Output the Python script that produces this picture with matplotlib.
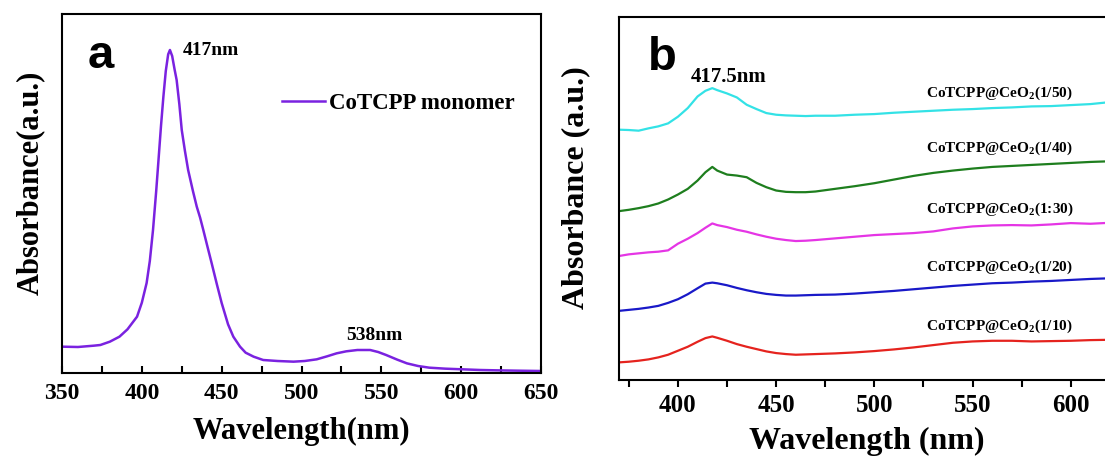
import matplotlib
matplotlib.use("Agg")
from matplotlib import pyplot as plt
from matplotlib.ticker import MultipleLocator, FixedLocator

plt.rcParams['font.family'] = 'Liberation Serif'
plt.rcParams['font.weight'] = 'bold'
plt.rcParams['mathtext.fontset'] = 'custom'
plt.rcParams['mathtext.rm'] = 'Liberation Serif:bold'
plt.rcParams['mathtext.bf'] = 'Liberation Serif:bold'

# =========== DONNEES ===========

# (a) CoTCPP monomere
wl_a = [350, 360, 370, 374, 380, 386, 391, 397, 400, 403, 405, 407, 409, 410.3,
        412, 413.5, 415, 416.5, 417.6, 419, 420.5, 421.8, 423.5, 425, 427, 429,
        432, 434.4, 436.5, 438.5, 441, 443.7, 447, 450, 454, 457.3, 461.5, 465,
        470, 476, 485, 495, 502, 509.5, 516, 522, 528, 535, 543, 548, 553, 560,
        566, 573, 580, 590, 601, 612, 622, 635, 650]
abs_a = [73, 72, 76, 78, 88, 103, 125, 163, 205, 264, 330, 423, 540, 624,
         735, 823, 900, 950, 963, 945, 905, 873, 800, 723, 660, 603,
         540, 493, 460, 423, 375, 324, 260, 204, 140, 103, 73, 55,
         43, 33, 30, 28, 30, 35, 44, 53, 59, 63, 63, 57, 48, 34,
         23, 15, 10, 7, 5, 3, 2, 1, 0]

# (b) CoTCPP@CeO2, spectres decales
wl_b = [370, 375, 380, 385, 390, 395, 400, 405, 410, 414, 417.5, 420, 425, 430,
        435, 440, 445, 450, 455, 460, 465, 470, 480, 490, 500, 510, 520, 530,
        540, 550, 560, 570, 580, 590, 600, 610, 620, 630]
abs_10 = [53, 55, 58, 62, 68, 76, 88, 100, 115, 126, 131, 127, 118, 108,
          100, 93, 86, 81, 78, 76, 77, 78, 80, 83, 87, 92, 98, 105,
          112, 116, 118, 118, 116, 117, 118, 120, 121, 121]
abs_20 = [208, 211, 214, 218, 223, 232, 243, 258, 276, 290, 293, 291, 285, 277,
          270, 264, 259, 256, 254, 254, 255, 256, 257, 260, 264, 268, 273, 278,
          283, 287, 291, 293, 296, 298, 301, 304, 306, 307]
abs_30 = [373, 378, 381, 384, 386, 390, 410, 425, 442, 458, 471, 466, 460, 452,
          446, 438, 431, 425, 421, 418, 419, 421, 426, 431, 436, 439, 442, 447,
          456, 462, 465, 466, 465, 468, 472, 470, 473, 473]
abs_40 = [508, 512, 517, 523, 531, 543, 558, 575, 600, 625, 641, 630, 618, 615,
          610, 593, 580, 570, 566, 565, 565, 567, 575, 583, 592, 603, 614, 623,
          630, 636, 641, 644, 647, 650, 653, 656, 658, 659]
abs_50 = [753, 752, 750, 757, 763, 772, 792, 818, 853, 870, 878, 872, 862, 850,
          828, 815, 803, 798, 796, 795, 794, 795, 795, 798, 800, 804, 807, 810,
          813, 815, 818, 820, 823, 824, 827, 830, 836, 838]

series_b = [abs_10, abs_20, abs_30, abs_40, abs_50]
noms_b = ['CoTCPP@CeO$_2$(1/10)', 'CoTCPP@CeO$_2$(1/20)', 'CoTCPP@CeO$_2$(1:30)',
          'CoTCPP@CeO$_2$(1/40)', 'CoTCPP@CeO$_2$(1/50)']
pos_noms = [162, 339, 513, 696, 861]
couleurs_b = ['#E5231E', '#1919C8', '#E535E5', '#1E7E1E', '#33E2E6']

ticks_b = [400, 450, 500, 550, 600]
minor_b = [375, 425, 475, 525, 575, 625]

# =====================================================

fig = plt.figure(figsize=(11.05, 4.59), dpi=100)
axa = fig.add_axes([62/1105, (459-373)/459, 479/1105, 359/459])
axb = fig.add_axes([619/1105, (459-380)/459, 550/1105, 363/459])

# ---- panneau a ----
axa.plot(wl_a, abs_a, color='#7A22E0', lw=1.8, label='CoTCPP monomer')
axa.set_xlim(350, 650)
axa.set_ylim(-6, 1071)
axa.set_yticks([])
axa.xaxis.set_major_locator(MultipleLocator(50))
axa.xaxis.set_minor_locator(MultipleLocator(25))
axa.tick_params(axis='x', which='both', direction='in', length=5, width=1.5,
                labelsize=17, pad=7)
for s in axa.spines.values():
    s.set_linewidth(1.5)
axa.set_xlabel('Wavelength(nm)', fontsize=22, fontweight='bold', va='top')
axa.xaxis.set_label_coords(0.5, -0.122)
axa.set_ylabel('Absorbance(a.u.)', fontsize=22, fontweight='bold')
axa.yaxis.set_label_coords(-0.035, 0.529)
axa.text(366, 909, 'a', family='Liberation Sans', fontsize=34, fontweight='bold')
axa.text(425.8, 963, '417nm', fontsize=14, fontweight='bold', va='center')
axa.text(545.4, 108, '538nm', fontsize=14, fontweight='bold', va='center', ha='center')
axa.legend(loc='center left', bbox_to_anchor=(0.459, 0.752), frameon=False,
           handlelength=1.87, handletextpad=0.2, borderpad=0,
           borderaxespad=0, prop={'weight': 'bold', 'size': 16.5})

# ---- panneau b ----
for y, c in zip(series_b, couleurs_b):
    axb.plot(wl_b, y, color=c, lw=1.6)
for nom, p in zip(noms_b, pos_noms):
    axb.text(526.5, p, nom, fontsize=11, fontweight='bold', va='center')
axb.set_xlim(370, 650)
axb.set_ylim(0, 1092)
axb.set_yticks([])
axb.xaxis.set_major_locator(FixedLocator(ticks_b))
axb.xaxis.set_minor_locator(FixedLocator(minor_b))
axb.tick_params(axis='x', which='both', direction='out', length=5, width=1.5,
                labelsize=18, pad=5)
for s in axb.spines.values():
    s.set_linewidth(1.5)
axb.set_xlabel('Wavelength (nm)', fontsize=23, fontweight='bold', va='top')
axb.xaxis.set_label_coords(0.45, -0.129)
axb.set_ylabel('Absorbance (a.u.)', fontsize=23, fontweight='bold')
axb.yaxis.set_label_coords(-0.053, 0.53)
axb.text(384.7, 933, 'b', family='Liberation Sans', fontsize=34, fontweight='bold')
axb.text(426, 913, '417.5nm', fontsize=15, fontweight='bold', va='center', ha='center')

fig.savefig('out.png', dpi=100)
